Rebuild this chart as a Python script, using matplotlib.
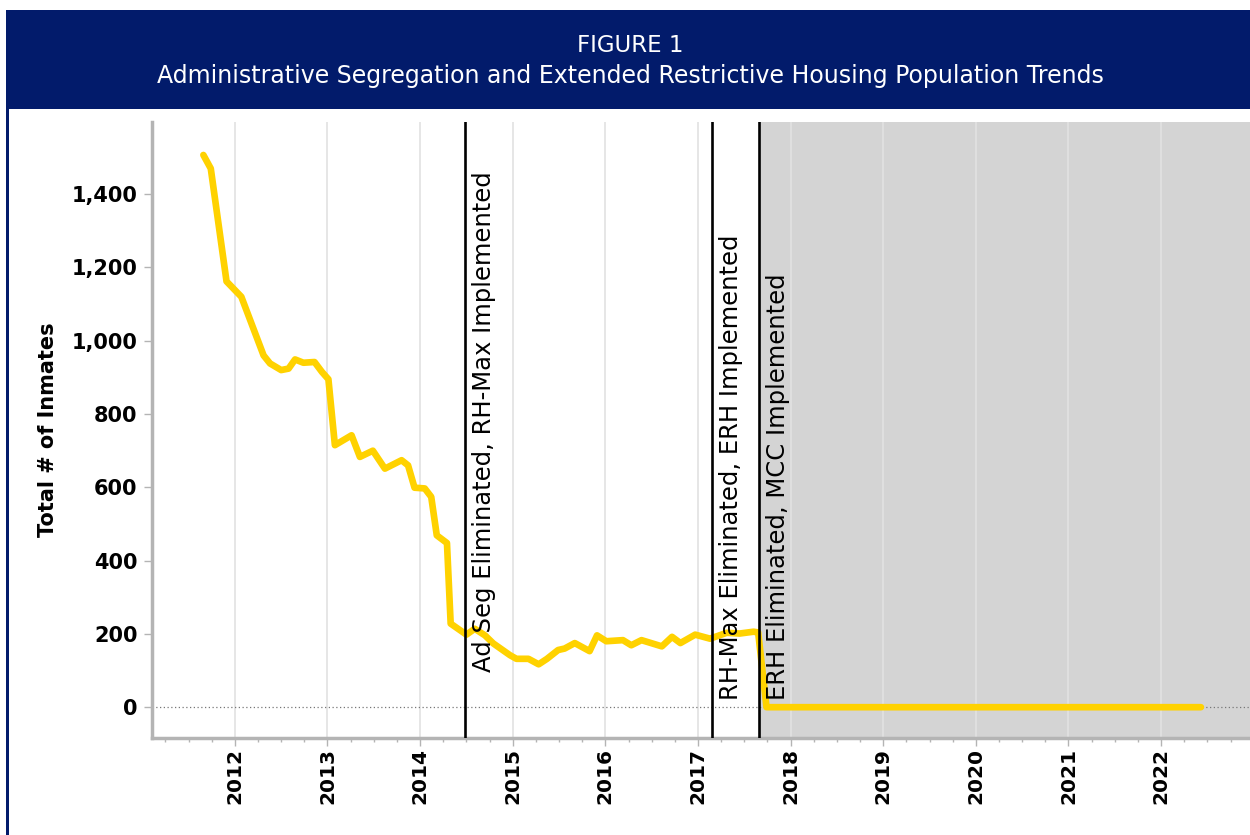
import matplotlib
matplotlib.use("Agg")
import matplotlib.pyplot as plt
from matplotlib.patches import Rectangle
from matplotlib.ticker import FuncFormatter, FixedLocator

# population trend (decimal years)
dates = [
    2011.66, 2011.74, 2011.91, 2012.07, 2012.31, 2012.38, 2012.50, 2012.58,
    2012.65, 2012.74, 2012.86, 2012.94, 2013.01, 2013.08, 2013.26, 2013.35,
    2013.49, 2013.62, 2013.80, 2013.87, 2013.94, 2014.05, 2014.12, 2014.18,
    2014.29, 2014.33, 2014.50, 2014.59, 2014.70, 2014.79, 2014.97, 2015.04,
    2015.17, 2015.28, 2015.37, 2015.49, 2015.56, 2015.67, 2015.83, 2015.91,
    2016.01, 2016.19, 2016.28, 2016.39, 2016.61, 2016.72, 2016.81, 2016.97,
    2017.13, 2017.31, 2017.45, 2017.60, 2017.65, 2017.74, 2022.43,
]
inmates = [
    1507, 1470, 1162, 1120, 960, 938, 920, 924,
    949, 940, 942, 915, 895, 715, 742, 683,
    700, 651, 674, 660, 599, 597, 574, 469,
    448, 228, 198, 214, 196, 174, 142, 132,
    132, 117, 132, 156, 160, 175, 153, 196,
    180, 183, 169, 183, 166, 192, 175, 198,
    187, 203, 201, 206, 204, 0, 0,
]

events = [2014.49, 2017.15, 2017.66]
event_labels = [
    "Ad Seg Eliminated, RH-Max Implemented",
    "RH-Max Eliminated, ERH Implemented",
    "ERH Eliminated, MCC Implemented",
]
event_label_y = [95, 19, 19]

years = list(range(2012, 2023))
y_ticks = [0, 200, 400, 600, 800, 1000, 1200, 1400]

navy = "#021b6b"
gold = "#ffd200"
spine_gray = "#b4b4b4"

fig = plt.figure(figsize=(12.5, 8.35), dpi=100)

# header band and left border
fig.patches.append(Rectangle((8 / 1250, 0.869), 1, 0.119, transform=fig.transFigure,
                             facecolor=navy, edgecolor="none", zorder=0))
fig.patches.append(Rectangle((6 / 1250, 0), 3 / 1250, 0.988, transform=fig.transFigure,
                             facecolor=navy, edgecolor="none", zorder=0))
fig.text(0.504, 0.946, "FIGURE 1", color="white", fontsize=16.5,
         ha="center", va="center")
fig.text(0.504, 0.909,
         "Administrative Segregation and Extended Restrictive Housing Population Trends",
         color="white", fontsize=17, ha="center", va="center")

ax = fig.add_axes([0.1212, 0.1162, 0.8788, 0.7377])
ax.set_xlim(2011.10, 2022.96)
ax.set_ylim(-84, 1597)

# shaded period after last policy change
ax.axvspan(events[-1], 2022.96, color="#d4d4d4", zorder=0.2, lw=0)

ax.xaxis.set_major_locator(FixedLocator(years))
ax.xaxis.set_minor_locator(FixedLocator([y + q / 4 for y in range(2011, 2023) for q in range(4)]))
ax.grid(axis="x", color="#e2e2e2", lw=1.2)
ax.set_axisbelow(True)

ax.axhline(0, color="#777777", lw=0.9, ls=(0, (1, 2)), zorder=1)

ax.plot(dates, inmates, color=gold, lw=4.8, solid_joinstyle="round",
        solid_capstyle="round", zorder=3)

for x, label, y in zip(events, event_labels, event_label_y):
    ax.axvline(x, color="black", lw=1.9, zorder=4)
    ax.annotate(label, xy=(x, y), xytext=(5, 0), textcoords="offset points",
                rotation=90, ha="left", va="bottom", fontsize=17.5, zorder=5)

ax.set_yticks(y_ticks)
ax.yaxis.set_major_formatter(FuncFormatter(lambda v, p: f"{int(v):,}"))
ax.set_xticklabels([str(y) for y in years], rotation=90)
for lab in ax.get_xticklabels() + ax.get_yticklabels():
    lab.set_fontweight("bold")
ax.tick_params(axis="y", labelsize=15, length=6, width=1, color=spine_gray, pad=4)
ax.tick_params(axis="x", which="major", labelsize=14.5, length=6, width=1,
               color=spine_gray, pad=1)
ax.tick_params(axis="x", which="minor", length=3, width=1, color=spine_gray)

ax.set_ylabel("Total # of Inmates", fontsize=15, fontweight="bold", labelpad=10)

for side in ["top", "right"]:
    ax.spines[side].set_visible(False)
for side in ["left", "bottom"]:
    ax.spines[side].set_color(spine_gray)
    ax.spines[side].set_linewidth(2.5)

fig.savefig("out.png", dpi=100)
